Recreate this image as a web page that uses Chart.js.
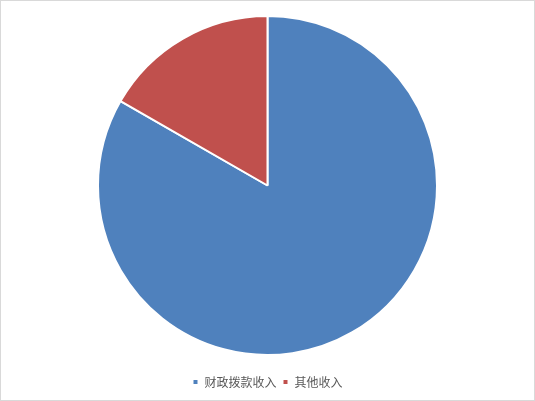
<!DOCTYPE html>
<html>
<head>
<meta charset="utf-8">
<script src="https://cdn.jsdelivr.net/npm/chart.js@4.4.0/dist/chart.umd.min.js"></script>
<style>
  html, body { margin: 0; padding: 0; background: #fff; }
  #wrap { width: 535px; height: 401px; box-sizing: border-box; border: 1px solid #d9d9d9; position: relative; }
  canvas { display: block; }
</style>
</head>
<body>
<div id="wrap"><canvas id="pieChart"></canvas></div>
<script>
  // chart data
  const categories = ['财政拨款收入', '其他收入'];
  const values = [83.3, 16.7];
  const colors = ['#4F81BD', '#C0504D'];

  // push the legend a bit lower without shrinking the pie
  const legendShift = {
    id: 'legendShift',
    afterLayout(chart) {
      const lg = chart.legend;
      if (lg) {
        lg.top += 14;
        lg.bottom += 14;
      }
    }
  };

  const ctx = document.getElementById('pieChart').getContext('2d');
  new Chart(ctx, {
    type: 'pie',
    data: {
      labels: categories,
      datasets: [{
        data: values,
        backgroundColor: colors,
        borderColor: '#ffffff',
        borderWidth: 2
      }]
    },
    options: {
      responsive: true,
      maintainAspectRatio: false,
      animation: false,
      layout: { padding: { top: 14, bottom: 16 } },
      plugins: {
        tooltip: { enabled: false },
        legend: {
          position: 'bottom',
          labels: {
            usePointStyle: true,
            pointStyle: 'rect',
            boxWidth: 6,
            boxHeight: 6,
            padding: 6,
            color: '#595959',
            font: { family: '"Noto Sans CJK SC", sans-serif', size: 12 }
          }
        }
      }
    },
    plugins: [legendShift]
  });
</script>
</body>
</html>
